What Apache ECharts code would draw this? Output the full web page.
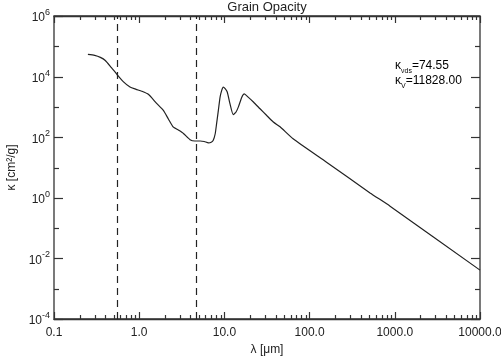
<!DOCTYPE html>
<html><head><meta charset="utf-8">
<script src="https://cdn.jsdelivr.net/npm/echarts@6/dist/echarts.min.js"></script>
<style>html,body{margin:0;padding:0;background:#fff}#c{width:501px;height:356px}</style>
</head><body><div id="c"></div>
<script>
const wavelength = [0.25,0.30,0.35,0.40,0.47,0.55,0.65,0.78,0.92,1.07,1.28,1.60,1.92,2.2,2.5,2.9,3.3,3.95,4.5,5.2,5.8,6.5,7.0,7.4,7.8,8.1,8.5,8.9,9.3,9.7,10.2,10.8,11.6,12.7,13.7,14.6,16.0,17.1,19.0,21.9,26.2,31.4,37.5,45,64,158,512,880,10000];
const kappa = [5.4e4,5.0e4,4.3e4,3.4e4,2.0e4,1.17e4,6.8e3,4.5e3,3.8e3,3.3e3,2.6e3,1.3e3,770,400,220,170,133,83,75,75,72,65,68,79,130,280,780,2100,3500,4500,4000,3100,1300,560,680,1000,2100,2700,2100,1450,870,520,318,220,89,15,1.45,0.53,0.0041];
const bandLines = [0.55, 4.7];
const xTickLabels = ['0.1','1.0','10.0','100.0','1000.0','10000.0'];
const yTickExponents = ['-4','-2','0','2','4','6'];
const xTickDecades = [-1,0,1,2,3];
const xMinorMultipliers = [2,3,4,5,6,7,8,9];
const yTickDecades = [-4,-3,-2,-1,0,1,2,3,4,5,6];
const titleText = 'Grain Opacity';
const xName = 'λ [μm]';
const yName = 'κ [cm²/g]';
const kappaVds = '74.55';
const kappaV = '11828.00';

const FONT = 'Liberation Sans';
const TXT = '#222';
const AX = '#333';
const G = {left:54, right:21, top:16, bottom:37};

const xMinor = [];
xTickDecades.forEach(d=>xMinorMultipliers.forEach(k=>xMinor.push([k*Math.pow(10,d), 1])));
const yTicks = yTickDecades.map(e=>[1, Math.pow(10,e), e%2===0?1:0]);

const xBase = {type:'log', logBase:10, min:0.1, max:10000, interval:1, splitLine:{show:false},
  axisLine:{show:true, lineStyle:{color:AX, width:1.3}},
  axisTick:{show:true, inside:true, length:7, lineStyle:{color:AX, width:1.2}}};
const chart = echarts.init(document.getElementById('c'), null, {renderer:'canvas'});
chart.setOption({
  animation:false,
  backgroundColor:'#fff',
  grid:{left:G.left, right:G.right, top:G.top, bottom:G.bottom, containLabel:false, outerBoundsMode:'none',
    show:true, borderColor:AX, borderWidth:1.3, backgroundColor:'transparent'},
  xAxis:[
    Object.assign({}, xBase, {position:'bottom',
      axisLabel:{fontFamily:FONT, fontSize:12, color:TXT, margin:8, hideOverlap:false,
        formatter:v=>xTickLabels[Math.round(Math.log10(v))+1]},
      name:xName, nameLocation:'middle', nameGap:18,
      nameTextStyle:{fontFamily:FONT, fontSize:12, color:TXT}}),
    Object.assign({}, xBase, {position:'top', axisLabel:{show:false}})
  ],
  yAxis:{type:'log', logBase:10, min:1e-4, max:1e6, interval:2,
    axisLine:{show:false}, axisTick:{show:false}, splitLine:{show:false},
    axisLabel:{margin:4, formatter:v=>{const e=Math.round(Math.log10(v)); const i=(e+4)/2; return '{b|10}{s|'+yTickExponents[i]+'}';},
      rich:{b:{fontFamily:FONT, fontSize:12, color:TXT, verticalAlign:'bottom'},
            s:{fontFamily:FONT, fontSize:9, color:TXT, verticalAlign:'bottom', padding:[0,0,7,0]}}},
    name:yName, nameLocation:'middle', nameGap:33, nameRotate:90,
    nameTextStyle:{fontFamily:FONT, fontSize:12, color:TXT}},
  series:[
    {type:'line', data:wavelength.map((w,i)=>[w,kappa[i]]), showSymbol:false, smooth:0.2,
      lineStyle:{color:'#222', width:1.2},
      markLine:{silent:true, symbol:['none','none'], label:{show:false},
        lineStyle:{type:[7,5], color:'#222', width:1.2},
        data:bandLines.map(v=>({xAxis:v}))}},
    {type:'custom', silent:true, clip:false, z:10, data:xMinor,
      renderItem:(params, api)=>{
        const cs=params.coordSys;
        const x=Math.round(api.coord([api.value(0), api.value(1)])[0])+0.5;
        const yb=cs.y+cs.height, yt=cs.y;
        return {type:'group', children:[
          {type:'line', shape:{x1:x,y1:yb,x2:x,y2:yb-4}, style:{stroke:AX, lineWidth:1.2}},
          {type:'line', shape:{x1:x,y1:yt,x2:x,y2:yt+4}, style:{stroke:AX, lineWidth:1.2}}
        ]};
      }},
    {type:'custom', silent:true, clip:false, z:10, data:yTicks,
      renderItem:(params, api)=>{
        const cs=params.coordSys;
        const y=Math.round(api.coord([api.value(0), api.value(1)])[1])+0.5;
        const len=api.value(2)?9:5;
        const xl=cs.x, xr=cs.x+cs.width;
        return {type:'group', children:[
          {type:'line', shape:{x1:xl,y1:y,x2:xl+len,y2:y}, style:{stroke:AX, lineWidth:1.2}},
          {type:'line', shape:{x1:xr,y1:y,x2:xr-len,y2:y}, style:{stroke:AX, lineWidth:1.2}}
        ]};
      }}
  ]
});

const L=G.left, R=501-G.right;
const annRich={k:{fontFamily:FONT, fontSize:12, color:TXT, verticalAlign:'bottom'},
  sub:{fontFamily:FONT, fontSize:7, color:TXT, verticalAlign:'bottom', padding:[0,0,-3,0]},
  t:{fontFamily:FONT, fontSize:12, color:TXT, verticalAlign:'bottom'}};
chart.setOption({graphic:{elements:[
  {type:'text', x:(L+R)/2, y:7, silent:true,
    style:{text:titleText, fontFamily:FONT, fontSize:13, fill:TXT, align:'center', verticalAlign:'middle'}},
  {type:'text', x:395, y:66, silent:true,
    style:{text:'{k|κ}{sub|νds}{t|='+kappaVds+'}', rich:annRich, verticalAlign:'middle', align:'left'}},
  {type:'text', x:395, y:81, silent:true,
    style:{text:'{k|κ}{sub|V}{t|='+kappaV+'}', rich:annRich, verticalAlign:'middle', align:'left'}}
]}});
</script></body></html>
